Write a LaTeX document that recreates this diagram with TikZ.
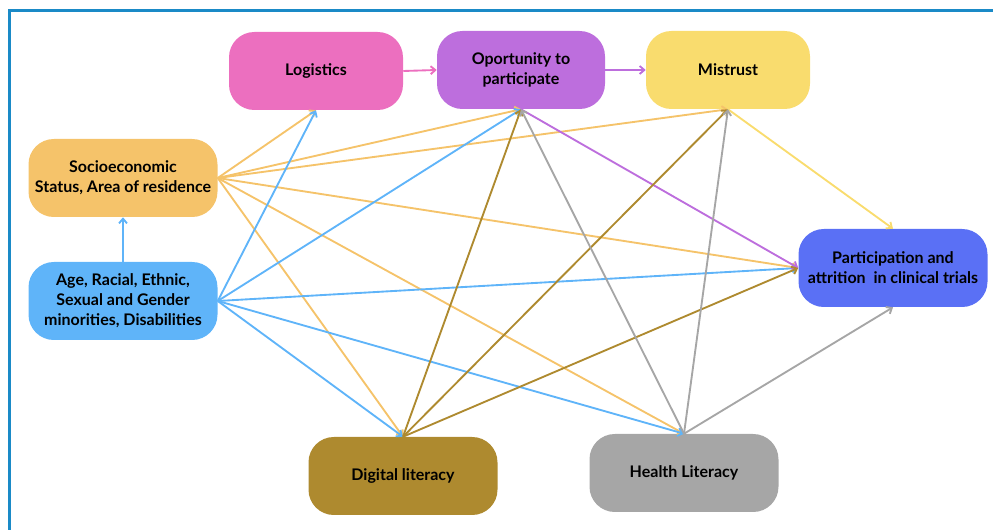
\documentclass[tikz,border=0pt]{standalone}
\usepackage{fontspec}
\setmainfont{Lato}
\usetikzlibrary{arrows.meta}

\definecolor{framec}{HTML}{1A8AC7}
\definecolor{logc}{HTML}{EC6FBF}
\definecolor{oppc}{HTML}{BD6EDD}
\definecolor{mistc}{HTML}{F9DC6E}
\definecolor{sesc}{HTML}{F5C36A}
\definecolor{agec}{HTML}{5FB4F9}
\definecolor{partc}{HTML}{5A70F5}
\definecolor{digc}{HTML}{AE8A2F}
\definecolor{healc}{HTML}{A6A6A6}

\begin{document}
\begin{tikzpicture}[x=0.75pt, y=-0.75pt,
    >={Straight Barb[length=3.5pt,width=6pt]},
    box/.style={rounded corners=19pt, minimum width=141.75pt, minimum height=58.5pt,
        align=center, inner sep=2pt, font=\bfseries\fontsize{12}{15}\selectfont},
    link/.style={->, line width=1.4pt}]

    \useasboundingbox (0,0) rectangle (993,530);

    % Frame (top and left edges only)
    \draw[framec, line width=2.25pt] (9,530) -- (9,11) -- (993,11);

    % Factors
    \node[box, fill=logc, minimum width=130.5pt] (logistics) at (316,71) {Logistics};
    \node[box, fill=oppc, minimum width=126pt] (opportunity) at (521,70) {Oportunity to\\participate};
    \node[box, fill=mistc, minimum width=123pt] (mistrust) at (728,70) {Mistrust};
    \node[box, fill=sesc] (ses) at (123,178) {Socioeconomic\\Status, Area of residence};
    \node[box, fill=agec] (minorities) at (123,301) {Age, Racial, Ethnic,\\Sexual and Gender\\minorities, Disabilities};
    \node[box, fill=partc] (participation) at (893,268) {Participation and\\attrition\ \ in clinical trials};
    \node[box, fill=digc] (digital) at (403,476) {Digital literacy};
    \node[box, fill=healc] (health) at (684,473) {Health Literacy};

    % Arrows from socioeconomic status
    \draw[link, sesc] (ses.east) -- (logistics.south);
    \draw[link, sesc] (ses.east) -- (opportunity.south);
    \draw[link, sesc] (ses.east) -- (mistrust.south);
    \draw[link, sesc] (ses.east) -- (participation.west);
    \draw[link, sesc] (ses.east) -- (digital.north);
    \draw[link, sesc] (ses.east) -- (health.north);

    % Arrows from age, minorities, disabilities
    \draw[link, agec] (minorities.north) -- (ses.south);
    \draw[link, agec] (minorities.east) -- (logistics.south);
    \draw[link, agec] (minorities.east) -- (opportunity.south);
    \draw[link, agec] (minorities.east) -- (participation.west);
    \draw[link, agec] (minorities.east) -- (digital.north);
    \draw[link, agec] (minorities.east) -- (health.north);

    % Top row
    \draw[link, logc] (logistics.east) -- (opportunity.west);
    \draw[link, oppc] (opportunity.east) -- (mistrust.west);
    \draw[link, oppc] (opportunity.south) -- (participation.west);
    \draw[link, mistc] (mistrust.south) -- (participation.north);

    % Arrows from digital literacy
    \draw[link, digc] (digital.north) -- (opportunity.south);
    \draw[link, digc] (digital.north) -- (mistrust.south);
    \draw[link, digc] (digital.north) -- (participation.west);

    % Arrows from health literacy
    \draw[link, healc] (health.north) -- (opportunity.south);
    \draw[link, healc] (health.north) -- (mistrust.south);
    \draw[link, healc] (health.north) -- (participation.south);

\end{tikzpicture}
\end{document}
